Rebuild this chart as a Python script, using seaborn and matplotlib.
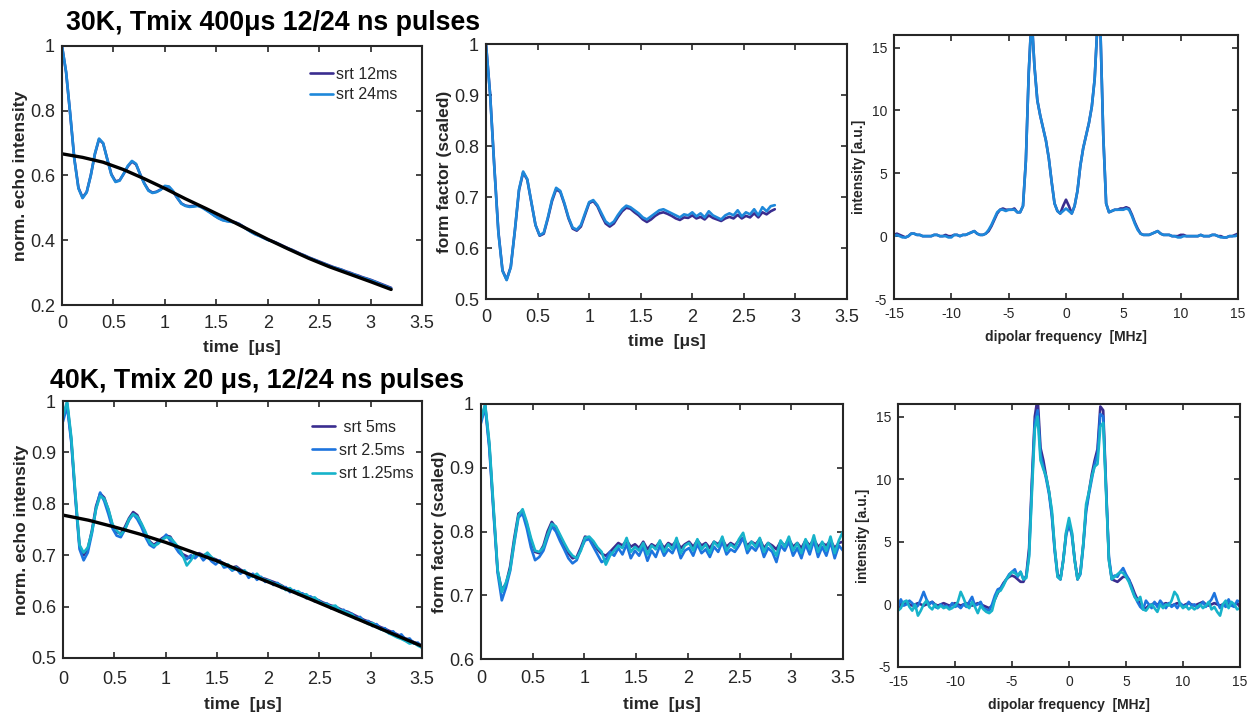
import numpy as np
import matplotlib
matplotlib.use("Agg")
import matplotlib.pyplot as plt
import seaborn as sns
from matplotlib.ticker import FuncFormatter

# ---------------- data ----------------
# 30K, top row
tl_navy = [1.000, 0.918, 0.788, 0.652, 0.562, 0.532, 0.549, 0.601, 0.666, 0.712,
           0.699, 0.651, 0.604, 0.582, 0.585, 0.605, 0.628, 0.643, 0.634, 0.604,
           0.576, 0.555, 0.547, 0.550, 0.557, 0.566, 0.564, 0.550, 0.531, 0.514,
           0.507, 0.505, 0.506, 0.507, 0.503, 0.495, 0.486, 0.477, 0.469, 0.463,
           0.460, 0.458, 0.456, 0.451, 0.443, 0.434, 0.426, 0.419, 0.414, 0.408,
           0.402, 0.398, 0.393, 0.387, 0.381, 0.375, 0.370, 0.364, 0.358, 0.353,
           0.347, 0.342, 0.337, 0.332, 0.327, 0.322, 0.317, 0.313, 0.309, 0.304,
           0.300, 0.295, 0.291, 0.286, 0.282, 0.278, 0.273, 0.268, 0.263, 0.258,
           0.253]
tl_blue = [1.000, 0.920, 0.790, 0.650, 0.560, 0.530, 0.548, 0.600, 0.668, 0.714,
           0.700, 0.650, 0.602, 0.580, 0.584, 0.606, 0.630, 0.645, 0.636, 0.603,
           0.575, 0.553, 0.546, 0.549, 0.556, 0.568, 0.566, 0.552, 0.532, 0.513,
           0.506, 0.503, 0.504, 0.506, 0.501, 0.493, 0.485, 0.476, 0.468, 0.462,
           0.459, 0.457, 0.455, 0.450, 0.442, 0.433, 0.425, 0.418, 0.413, 0.407,
           0.401, 0.397, 0.392, 0.386, 0.379, 0.374, 0.369, 0.362, 0.357, 0.352,
           0.346, 0.341, 0.336, 0.330, 0.326, 0.320, 0.316, 0.312, 0.308, 0.302,
           0.298, 0.294, 0.289, 0.284, 0.281, 0.276, 0.272, 0.266, 0.261, 0.256,
           0.251]
tl_fit = [0.667, 0.656, 0.641, 0.618, 0.590, 0.560, 0.528, 0.498, 0.467,
          0.435, 0.403, 0.373, 0.344, 0.318, 0.295, 0.272, 0.248]

tm_navy = [1.000, 0.902, 0.762, 0.632, 0.556, 0.538, 0.563, 0.634, 0.713, 0.748,
           0.734, 0.689, 0.645, 0.624, 0.628, 0.658, 0.692, 0.715, 0.710, 0.686,
           0.658, 0.638, 0.634, 0.642, 0.665, 0.688, 0.692, 0.682, 0.664, 0.648,
           0.642, 0.648, 0.661, 0.672, 0.679, 0.677, 0.670, 0.664, 0.656, 0.651,
           0.656, 0.663, 0.668, 0.670, 0.667, 0.663, 0.658, 0.655, 0.660, 0.659,
           0.664, 0.658, 0.661, 0.656, 0.664, 0.659, 0.656, 0.653, 0.658, 0.661,
           0.658, 0.665, 0.658, 0.663, 0.660, 0.668, 0.660, 0.670, 0.666, 0.672,
           0.676]
tm_blue = [1.000, 0.900, 0.760, 0.630, 0.555, 0.537, 0.562, 0.635, 0.715, 0.750,
           0.735, 0.690, 0.645, 0.625, 0.630, 0.660, 0.695, 0.718, 0.712, 0.688,
           0.660, 0.640, 0.636, 0.645, 0.668, 0.690, 0.694, 0.684, 0.668, 0.652,
           0.646, 0.652, 0.665, 0.676, 0.683, 0.680, 0.674, 0.668, 0.660, 0.656,
           0.662, 0.668, 0.674, 0.676, 0.672, 0.668, 0.664, 0.660, 0.666, 0.664,
           0.670, 0.662, 0.668, 0.660, 0.672, 0.664, 0.660, 0.656, 0.664, 0.668,
           0.664, 0.674, 0.662, 0.670, 0.666, 0.676, 0.664, 0.680, 0.672, 0.682,
           0.684]

tr_navy = [0.1, 0.2, 0.1, 0.0, -0.1, 0.0, 0.2, 0.2, 0.1, 0.1,
           0.0, 0.0, 0.0, 0.0, 0.1, 0.1, 0.0, 0.0, 0.1, 0.0,
           0.0, 0.1, 0.1, 0.0, 0.1, 0.1, 0.2, 0.3, 0.4, 0.2,
           0.1, 0.1, 0.2, 0.4, 0.8, 1.3, 1.8, 2.1, 2.2, 2.1,
           2.1, 2.1, 2.2, 1.9, 1.9, 2.4, 6.0, 13.0, 17.5, 13.5,
           10.8, 9.6, 8.6, 7.6, 6.2, 4.3, 2.6, 2.0, 1.8, 2.4,
           2.9, 2.4, 1.8, 2.4, 3.6, 5.6, 7.0, 8.0, 9.0, 10.3,
           12.5, 17.0, 16.5, 8.0, 2.6, 1.9, 2.0, 2.1, 2.1, 2.2,
           2.2, 2.3, 2.2, 1.7, 1.1, 0.6, 0.2, 0.1, 0.1, 0.1,
           0.2, 0.3, 0.4, 0.2, 0.1, 0.1, 0.1, 0.0, 0.0, 0.0,
           0.1, 0.1, 0.0, 0.0, 0.0, 0.0, 0.0, 0.1, 0.0, 0.0,
           0.0, 0.1, 0.1, 0.0, 0.0, -0.1, -0.1, 0.0, 0.0, 0.1,
           0.2]
tr_blue = [0.0, 0.1, 0.0, -0.1, -0.1, 0.0, 0.2, 0.2, 0.1, 0.1,
           0.0, 0.0, 0.0, 0.0, 0.1, 0.1, 0.0, 0.0, 0.0, -0.1,
           -0.1, 0.1, 0.1, 0.0, 0.1, 0.1, 0.2, 0.3, 0.4, 0.2,
           0.1, 0.1, 0.2, 0.5, 0.9, 1.4, 1.9, 2.1, 2.1, 2.0,
           2.1, 2.1, 2.1, 1.9, 1.9, 2.4, 6.0, 13.0, 17.5, 13.5,
           10.8, 9.6, 8.6, 7.6, 6.2, 4.3, 2.6, 2.0, 1.8, 2.0,
           2.2, 2.0, 1.8, 2.4, 3.6, 5.6, 7.0, 8.0, 9.0, 10.3,
           12.5, 17.0, 16.5, 8.0, 2.6, 1.9, 2.0, 2.1, 2.1, 2.1,
           2.1, 2.2, 2.1, 1.6, 1.0, 0.5, 0.2, 0.1, 0.1, 0.1,
           0.2, 0.3, 0.4, 0.2, 0.1, 0.1, 0.1, 0.0, 0.0, -0.1,
           -0.1, 0.0, 0.0, 0.0, 0.0, 0.0, 0.0, 0.1, 0.0, 0.0,
           0.0, 0.1, 0.1, 0.0, -0.1, -0.1, -0.1, 0.0, 0.0, 0.0,
           0.1]

# 40K, bottom row
bl_navy = [0.970, 0.995, 0.925, 0.815, 0.718, 0.700, 0.712, 0.748, 0.795, 0.820,
           0.812, 0.788, 0.758, 0.745, 0.742, 0.755, 0.772, 0.784, 0.778, 0.760,
           0.742, 0.727, 0.720, 0.726, 0.733, 0.738, 0.736, 0.722, 0.712, 0.702,
           0.698, 0.694, 0.700, 0.704, 0.700, 0.702, 0.695, 0.692, 0.688, 0.684,
           0.680, 0.676, 0.678, 0.672, 0.668, 0.664, 0.662, 0.660, 0.656, 0.654,
           0.651, 0.648, 0.645, 0.641, 0.636, 0.634, 0.630, 0.628, 0.625, 0.622,
           0.618, 0.616, 0.612, 0.608, 0.605, 0.602, 0.600, 0.596, 0.592, 0.590,
           0.586, 0.582, 0.578, 0.574, 0.571, 0.568, 0.564, 0.560, 0.557, 0.553,
           0.550, 0.546, 0.542, 0.538, 0.535, 0.531, 0.528, 0.524]
bl_blue = [0.960, 0.990, 0.920, 0.810, 0.712, 0.690, 0.705, 0.742, 0.790, 0.822,
           0.805, 0.780, 0.752, 0.738, 0.735, 0.750, 0.768, 0.780, 0.770, 0.755,
           0.735, 0.720, 0.715, 0.725, 0.730, 0.740, 0.728, 0.718, 0.706, 0.698,
           0.692, 0.700, 0.694, 0.702, 0.690, 0.698, 0.688, 0.682, 0.690, 0.676,
           0.678, 0.670, 0.674, 0.664, 0.670, 0.656, 0.664, 0.652, 0.658, 0.648,
           0.650, 0.642, 0.646, 0.636, 0.638, 0.628, 0.632, 0.624, 0.626, 0.616,
           0.620, 0.610, 0.612, 0.604, 0.606, 0.596, 0.600, 0.590, 0.594, 0.584,
           0.586, 0.576, 0.580, 0.570, 0.572, 0.562, 0.566, 0.556, 0.558, 0.548,
           0.552, 0.542, 0.546, 0.536, 0.538, 0.528, 0.530, 0.520]
bl_cyan = [0.970, 1.000, 0.930, 0.820, 0.720, 0.705, 0.715, 0.745, 0.790, 0.815,
           0.810, 0.790, 0.760, 0.748, 0.740, 0.750, 0.770, 0.780, 0.775, 0.762,
           0.745, 0.725, 0.718, 0.722, 0.730, 0.735, 0.734, 0.725, 0.715, 0.700,
           0.680, 0.690, 0.704, 0.700, 0.698, 0.705, 0.696, 0.690, 0.686, 0.680,
           0.682, 0.672, 0.676, 0.668, 0.670, 0.662, 0.658, 0.664, 0.655, 0.652,
           0.650, 0.645, 0.643, 0.640, 0.632, 0.636, 0.628, 0.630, 0.622, 0.624,
           0.615, 0.618, 0.610, 0.606, 0.604, 0.600, 0.602, 0.594, 0.590, 0.588,
           0.584, 0.578, 0.576, 0.571, 0.566, 0.568, 0.560, 0.556, 0.553, 0.548,
           0.544, 0.540, 0.537, 0.533, 0.528, 0.530, 0.524, 0.520]
bl_fit = [0.778, 0.768, 0.755, 0.741, 0.725, 0.707, 0.689, 0.668, 0.648,
          0.628, 0.607, 0.586, 0.565, 0.544, 0.523]

bm_navy = [0.975, 0.998, 0.935, 0.835, 0.738, 0.708, 0.718, 0.745, 0.790, 0.828,
           0.832, 0.812, 0.786, 0.768, 0.766, 0.778, 0.800, 0.815, 0.806, 0.792,
           0.778, 0.766, 0.758, 0.760, 0.775, 0.792, 0.790, 0.782, 0.772, 0.765,
           0.762, 0.768, 0.775, 0.782, 0.778, 0.786, 0.776, 0.780, 0.774, 0.784,
           0.772, 0.780, 0.776, 0.784, 0.774, 0.782, 0.778, 0.786, 0.774, 0.780,
           0.784, 0.776, 0.786, 0.778, 0.782, 0.774, 0.784, 0.780, 0.788, 0.776,
           0.782, 0.778, 0.786, 0.790, 0.778, 0.784, 0.780, 0.788, 0.774, 0.782,
           0.778, 0.772, 0.784, 0.778, 0.788, 0.776, 0.782, 0.774, 0.786, 0.778,
           0.788, 0.776, 0.782, 0.778, 0.786, 0.774, 0.782, 0.784]
bm_blue = [0.970, 0.995, 0.930, 0.830, 0.735, 0.692, 0.712, 0.738, 0.782, 0.822,
           0.828, 0.805, 0.775, 0.755, 0.760, 0.770, 0.790, 0.808, 0.800, 0.785,
           0.772, 0.758, 0.750, 0.755, 0.772, 0.786, 0.788, 0.776, 0.764, 0.752,
           0.756, 0.768, 0.762, 0.774, 0.764, 0.780, 0.758, 0.770, 0.762, 0.776,
           0.754, 0.770, 0.760, 0.778, 0.762, 0.772, 0.766, 0.780, 0.758, 0.770,
           0.774, 0.762, 0.780, 0.766, 0.772, 0.760, 0.776, 0.768, 0.784, 0.764,
           0.772, 0.768, 0.778, 0.790, 0.766, 0.776, 0.770, 0.782, 0.760, 0.774,
           0.768, 0.752, 0.778, 0.770, 0.784, 0.762, 0.774, 0.758, 0.780, 0.764,
           0.786, 0.760, 0.776, 0.762, 0.784, 0.758, 0.778, 0.770]
bm_cyan = [0.975, 1.000, 0.940, 0.840, 0.740, 0.705, 0.720, 0.740, 0.785, 0.825,
           0.835, 0.815, 0.790, 0.770, 0.768, 0.775, 0.795, 0.812, 0.808, 0.795,
           0.782, 0.770, 0.762, 0.758, 0.770, 0.790, 0.792, 0.785, 0.775, 0.768,
           0.748, 0.762, 0.770, 0.778, 0.774, 0.790, 0.768, 0.776, 0.770, 0.782,
           0.764, 0.778, 0.772, 0.786, 0.768, 0.780, 0.772, 0.790, 0.766, 0.778,
           0.782, 0.770, 0.788, 0.772, 0.780, 0.766, 0.784, 0.776, 0.792, 0.770,
           0.780, 0.774, 0.788, 0.798, 0.772, 0.784, 0.776, 0.790, 0.768, 0.782,
           0.774, 0.762, 0.786, 0.776, 0.792, 0.770, 0.782, 0.766, 0.788, 0.772,
           0.794, 0.768, 0.784, 0.770, 0.792, 0.766, 0.786, 0.800]

br_navy = [-0.3, -0.1, 0.0, 0.1, 0.0, -0.1, 0.0, 0.1, 0.0, -0.1,
           0.0, 0.1, 0.2, 0.0, -0.1, 0.0, 0.1, 0.0, -0.1, 0.0,
           0.1, 0.0, -0.1, 0.0, 0.1, 0.0, -0.1, 0.0, 0.1, 0.0,
           -0.1, -0.2, -0.3, -0.1, 0.4, 0.9, 1.3, 1.7, 2.0, 2.2,
           2.3, 2.2, 2.0, 1.8, 1.8, 2.3, 4.5, 10.0, 15.0, 16.5,
           12.5, 11.5, 10.2, 9.0, 7.2, 4.4, 2.4, 2.0, 3.6, 5.7,
           6.3, 5.7, 3.6, 2.0, 2.6, 4.8, 7.6, 9.0, 10.4, 11.5,
           12.4, 15.8, 15.5, 9.5, 3.6, 2.0, 1.9, 1.8, 2.0, 2.2,
           2.2, 2.0, 1.5, 0.9, 0.4, 0.0, -0.3, -0.3, -0.1, 0.0,
           0.1, 0.0, -0.1, 0.0, 0.1, 0.0, -0.1, 0.0, 0.1, 0.0,
           -0.1, 0.0, 0.1, 0.0, -0.1, 0.0, 0.1, 0.2, 0.0, -0.1,
           0.0, 0.1, 0.0, -0.1, 0.0, 0.1, 0.0, -0.1, 0.0, 0.1,
           -0.2]
br_blue = [-0.2, 0.4, -0.1, 0.0, 0.3, 0.1, -0.3, -0.1, 0.4, 1.0,
           0.4, 0.0, 0.2, -0.2, -0.3, 0.0, -0.2, -0.1, -0.3, 0.1,
           -0.2, -0.1, -0.3, 0.0, -0.2, 0.2, 0.6, -0.1, 0.0, 0.2,
           -0.3, -0.4, -0.5, 0.0, 0.7, 1.2, 1.3, 1.6, 2.0, 2.4,
           2.6, 2.8, 2.2, 2.6, 2.0, 2.2, 4.0, 9.5, 14.5, 15.5,
           12.0, 11.0, 10.0, 8.8, 7.0, 4.2, 2.2, 2.0, 3.5, 5.5,
           6.5, 5.5, 3.5, 2.0, 2.4, 4.6, 7.4, 8.8, 10.0, 11.2,
           12.0, 15.2, 15.0, 9.2, 3.8, 2.1, 2.3, 2.2, 2.6, 2.9,
           2.4, 2.0, 1.3, 0.7, 0.2, -0.2, -0.4, 0.3, 0.0, -0.3,
           0.2, -0.2, 0.3, 0.0, -0.3, 0.1, -0.2, 0.0, -0.3, 0.1,
           -0.1, -0.2, 0.2, -0.1, 0.0, -0.3, -0.1, 0.2, -0.2, 0.1,
           0.4, 0.9, 0.2, -0.3, 0.0, -0.2, 0.4, -0.1, -0.2, 0.3,
           0.2]
br_cyan = [-0.5, -0.3, 0.2, 0.3, -0.2, -0.5, 0.0, -0.9, -0.5, 0.0,
           0.3, -0.2, -0.4, 0.0, -0.3, -0.1, -0.3, -0.2, -0.4, -0.3,
           -0.1, 0.2, 1.0, 0.5, -0.1, -0.3, 0.2, -0.2, -0.7, -0.1,
           -0.4, -0.6, -0.7, -0.5, 0.4, 1.0, 1.1, 1.5, 2.0, 2.3,
           2.6, 2.5, 2.3, 2.6, 2.0, 2.1, 3.8, 9.0, 14.0, 15.0,
           11.5, 10.8, 10.2, 9.0, 7.5, 4.5, 2.2, 2.0, 3.5, 5.8,
           6.9, 5.8, 3.5, 2.0, 2.5, 4.8, 8.0, 9.0, 10.2, 11.0,
           11.2, 14.2, 14.5, 9.0, 3.5, 2.0, 2.2, 2.4, 2.6, 2.5,
           2.2, 1.8, 1.2, 0.6, 0.3, 0.6, -0.4, -0.5, -0.2, 0.0,
           -0.3, -0.6, 0.0, -0.3, 0.0, -0.1, 0.3, 1.0, 0.7, 0.0,
           -0.3, -0.1, -0.4, -0.2, -0.4, -0.2, 0.0, -0.3, -0.1, 0.2,
           -0.4, -0.2, -0.6, -0.9, 0.0, 0.3, -0.3, 0.2, 0.0, -0.4,
           -0.3]

labels_top = ["srt 12ms", "srt 24ms"]
labels_bottom = [" srt 5ms", "srt 2.5ms", "srt 1.25ms"]
titles = ["30K, Tmix 400\u03bcs 12/24 ns pulses", "40K, Tmix 20 \u03bcs, 12/24 ns pulses"]

for arr in (tr_navy, tr_blue, br_navy, br_blue, br_cyan):
    assert len(arr) == 121, len(arr)

# ---------------- style ----------------
sns.set_style("ticks")
plt.rcParams["font.family"] = ["Liberation Sans", "DejaVu Sans"]
plt.rcParams["axes.unicode_minus"] = False

NAVY = "#3a2d8f"
BLUE_T = "#1e88da"
BLUE_B = "#1d74de"
CYAN = "#17b3ca"
DARK = "#262626"
LW = 1.9

fig = plt.figure(figsize=(12.47, 7.13), dpi=100)
W, H = 1247, 713


def add_axes(x0, y0, x1, y1):
    return fig.add_axes([x0 / W, 1 - y1 / H, (x1 - x0) / W, (y1 - y0) / H])


fmt = FuncFormatter(lambda v, p: f"{v:g}")


def style(ax, xlim, ylim, xt, yt, tfs, xlabel, ylabel, lfs, xpad, xlpad, ylpad):
    ax.set_xlim(*xlim)
    ax.set_ylim(*ylim)
    ax.set_xticks(xt)
    ax.set_yticks(yt)
    ax.xaxis.set_major_formatter(fmt)
    ax.yaxis.set_major_formatter(fmt)
    ax.tick_params(direction="in", top=True, right=True, length=4, width=1.2,
                   colors=DARK, labelsize=tfs)
    ax.tick_params(axis="x", pad=xpad)
    ax.tick_params(axis="y", pad=5)
    for s in ax.spines.values():
        s.set_linewidth(1.5)
        s.set_color(DARK)
        s.set_visible(True)
    ax.set_xlabel(xlabel, fontsize=lfs, fontweight="bold", color=DARK, labelpad=xlpad)
    ax.set_ylabel(ylabel, fontsize=lfs, fontweight="bold", color=DARK, labelpad=ylpad)


def trace(ax, x, y, color, lw=LW, label=None):
    sns.lineplot(x=x, y=y, ax=ax, color=color, linewidth=lw, label=label,
                 estimator=None, sort=False)


TIME = "time  [\u03bcs]"
FREQ = "dipolar frequency  [MHz]"

# ---- top left
ax = add_axes(62, 46, 422, 305)
t = np.linspace(0, 3.2, len(tl_navy))
trace(ax, t, tl_navy, NAVY, label=labels_top[0])
trace(ax, t, tl_blue, BLUE_T, label=labels_top[1])
trace(ax, np.linspace(0, 3.2, len(tl_fit)), tl_fit, "black", lw=2.4)
style(ax, (0, 3.5), (0.2, 1.0), np.arange(0, 3.51, 0.5), np.arange(0.2, 1.01, 0.2),
      13, TIME, "norm. echo intensity", 12.5, 7.5, 5.5, 1.5)
ax.legend(loc="upper left", bbox_to_anchor=(0.689, 0.92), frameon=False,
          fontsize=11.5, handlelength=1.45, handletextpad=0.2, labelspacing=0.36,
          borderpad=0, borderaxespad=0)

# ---- top middle
ax = add_axes(486, 44, 847, 299)
t = np.linspace(0, 2.8, len(tm_navy))
trace(ax, t, tm_navy, NAVY)
trace(ax, t, tm_blue, BLUE_T)
style(ax, (0, 3.5), (0.5, 1.0), np.arange(0, 3.51, 0.5), np.arange(0.5, 1.01, 0.1),
      13, TIME, "form factor (scaled)", 12.5, 7.5, 5.5, 1.5)

# ---- top right
ax = add_axes(894, 35, 1238, 299)
f = np.linspace(-15, 15, len(tr_navy))
trace(ax, f, tr_navy, NAVY)
trace(ax, f, tr_blue, BLUE_T)
style(ax, (-15, 15), (-5, 16), np.arange(-15, 16, 5), np.arange(-5, 16, 5),
      10, FREQ, "intensity [a.u.]", 10, 6, 6, 4)

# ---- bottom left
ax = add_axes(63, 401, 422, 658)
t = np.linspace(0, 3.5, len(bl_navy))
trace(ax, t, bl_navy, NAVY, label=labels_bottom[0])
trace(ax, t, bl_blue, BLUE_B, label=labels_bottom[1])
trace(ax, t, bl_cyan, CYAN, label=labels_bottom[2])
trace(ax, np.linspace(0, 3.5, len(bl_fit)), bl_fit, "black", lw=2.4)
style(ax, (0, 3.5), (0.5, 1.0), np.arange(0, 3.51, 0.5), np.arange(0.5, 1.01, 0.1),
      13, TIME, "norm. echo intensity", 12.5, 9, 7, 1.5)
ax.legend(loc="upper left", bbox_to_anchor=(0.694, 0.927), frameon=False,
          fontsize=11.5, handlelength=1.45, handletextpad=0.2, labelspacing=0.52,
          borderpad=0, borderaxespad=0)

# ---- bottom middle
ax = add_axes(481, 404, 843, 659)
t = np.linspace(0, 3.5, len(bm_navy))
trace(ax, t, bm_navy, NAVY)
trace(ax, t, bm_blue, BLUE_B)
trace(ax, t, bm_cyan, CYAN)
style(ax, (0, 3.5), (0.6, 1.0), np.arange(0, 3.51, 0.5), np.arange(0.6, 1.01, 0.1),
      13, TIME, "form factor (scaled)", 12.5, 8, 7, 1.5)

# ---- bottom right
ax = add_axes(898, 404, 1240, 667)
f = np.linspace(-15, 15, len(br_navy))
trace(ax, f, br_navy, NAVY)
trace(ax, f, br_blue, BLUE_B)
trace(ax, f, br_cyan, CYAN)
style(ax, (-15, 15), (-5, 16), np.arange(-15, 16, 5), np.arange(-5, 16, 5),
      10, FREQ, "intensity [a.u.]", 10, 6, 6, 4)

# ---- titles
fig.text(66 / W, 1 - 30 / H, titles[0], fontsize=19.3, fontweight="bold",
         ha="left", va="baseline", color="black")
fig.text(50 / W, 1 - 388 / H, titles[1], fontsize=19.3, fontweight="bold",
         ha="left", va="baseline", color="black")

fig.savefig("out.png", dpi=100, facecolor="white")
